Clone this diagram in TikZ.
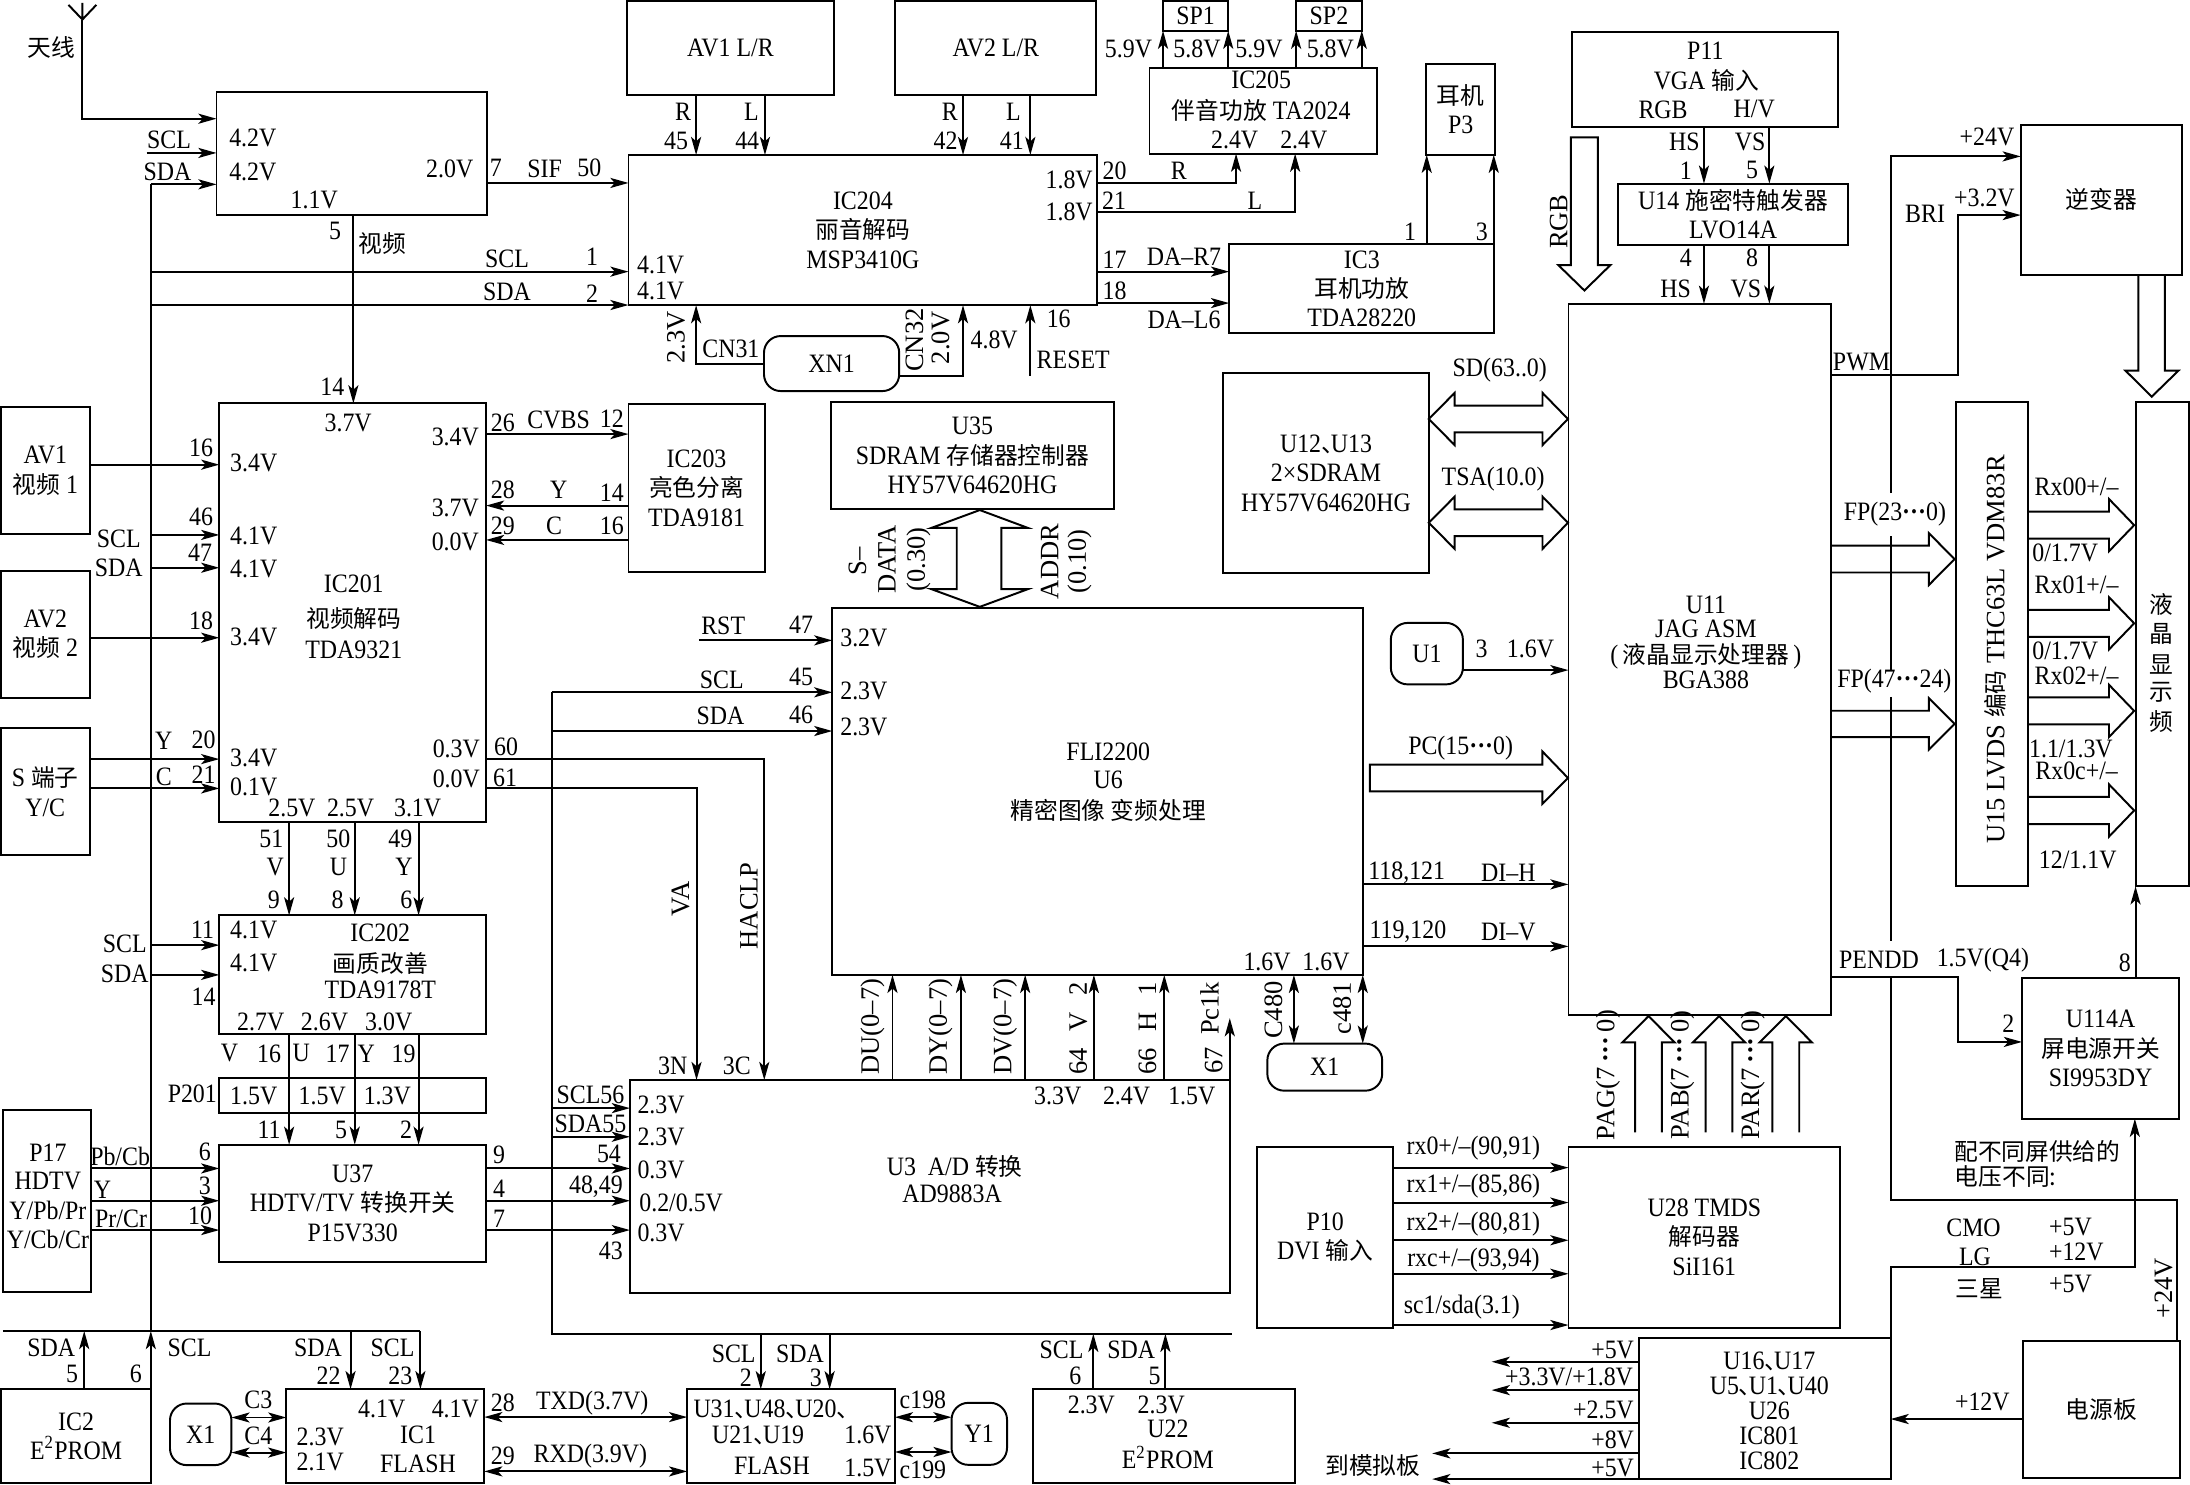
\documentclass[tikz,border=0pt]{standalone}
\usepackage{fontspec}
\setmainfont[FakeStretch=0.9]{Liberation Serif}
\newfontfamily\rotfont{Liberation Serif}
\newfontfamily\cjkfont{Noto Sans CJK SC}
\usetikzlibrary{arrows.meta}
\newcommand{\lbl}{\fontsize{9.5}{10.5}\selectfont}
\newcommand{\rlbl}{\rotfont\fontsize{9.5}{10.5}\selectfont}
\newcommand{\zh}[1]{{\cjkfont\fontsize{8.5}{10.5}\selectfont #1}}
\newcommand{\dn}{\zh{、}\kern-5pt}
\newcommand{\bx}[7][]{\node[box,#1,minimum width={(#5-#3)*0.5pt},minimum height={(#6-#4)*0.5pt}] (#2) at ({(#3+#5)/2},{(#4+#6)/2}) {#7};}
\newcommand{\fatright}[5]{\draw[wire] (#1,{#4-#5}) -- (#2,{#4-#5}) -- (#2,{#4-#5-9}) -- (#3,#4) -- (#2,{#4+#5+9}) -- (#2,{#4+#5}) -- (#1,{#4+#5});}
\newcommand{\fatup}[2]{\draw[wire] ({#1-9.6},810.8) -- ({#1-9.6},746.3) -- ({#1-18.7},746.3) -- (#1,#2) -- ({#1+18.7},746.3) -- ({#1+9.6},746.3) -- ({#1+9.6},810.8);}
\tikzset{
	sigtip/.tip={Stealth[length=6.5pt,width=3.6pt,inset=1.6pt]},
	wire/.style={line width=0.7pt},
	sig/.style={wire,-sigtip},
	dsig/.style={wire,sigtip-sigtip},
	box/.style={draw,wire,rectangle,inner sep=0pt,outer sep=0pt,align=center,font=\lbl},
	rbox/.style={rounded corners=6pt},
	lab/.style={inner sep=0pt,font=\lbl,align=center},
	rlab/.style={inner sep=0pt,font=\rlbl,rotate=90}
}
\begin{document}
\begin{tikzpicture}[x=0.5pt,y=-0.5pt]
	\useasboundingbox (0,0) rectangle (1568,1063);

	\bx{tuner}{155}{65.6}{349}{154}{}
	\bx{avlr}{449}{0.5}{597}{68}{AV1 L/R}
	\bx{avrr}{641}{0.5}{785}{68}{AV2 L/R}
	\bx{sp1}{832.7}{0.5}{879.4}{22}{SP1}
	\bx{sp2}{928}{0.5}{975}{22}{SP2}
	\bx{ic205}{823}{48.7}{986}{110}{}
	\bx{ic204}{450}{111}{785.6}{218.5}{IC204\\\zh{丽音解码}\\MSP3410G}
	\bx{ic3}{880}{175}{1070}{238.4}{IC3\\\zh{耳机功放}\\TDA28220}
	\bx{p3}{1021}{45.6}{1070.6}{110.8}{\zh{耳机}\\P3}
	\bx{p11}{1125.8}{23}{1315.8}{90.7}{}
	\bx{u14}{1158.6}{131.5}{1323}{175.4}{U14 \zh{施密特触发器}\\LVO14A}
	\bx{inv}{1446.8}{89.5}{1562}{196.7}{\zh{逆变器}}
	\bx[rbox]{xn1}{547}{240.6}{643.8}{280}{XN1}
	\bx{u35}{594.9}{288}{797.6}{364.3}{U35\\SDRAM \zh{存储器控制器}\\HY57V64620HG}
	\bx{ic203}{450}{289.6}{547.4}{409.6}{IC203\\\zh{亮色分离}\\TDA9181}
	\bx{u12}{875.8}{267}{1023}{410.5}{U12\dn U13\\2×SDRAM\\HY57V64620HG}
	\bx{ic201}{157}{288.8}{348}{588.3}{}
	\bx{ava}{0.5}{291.7}{64.3}{382.6}{AV1\\\zh{视频} 1}
	\bx{avb}{0.5}{408.6}{64.3}{499.5}{AV2\\\zh{视频} 2}
	\bx{sport}{0.5}{521.3}{64.3}{612.5}{S \zh{端子}\\Y/C}
	\bx{ic202}{157}{655.4}{348}{740.4}{}
	\bx{p201}{157}{771.9}{348}{797.2}{}
	\bx{u37}{157}{819.6}{348}{903.6}{U37\\HDTV/TV \zh{转换开关}\\P15V330}
	\bx{p17}{2}{794.8}{65}{925}{}
	\bx{u6}{595.9}{435.4}{976}{698}{}
	\bx{u3}{451}{773.3}{880.7}{925.7}{}
	\bx[rbox]{xb}{907.4}{747.2}{989.6}{780.9}{X1}
	\bx{u11}{1123}{217.5}{1310.8}{726.4}{}
	\bx[rbox]{u1}{995.8}{446}{1047.4}{490}{U1}
	\bx{u15}{1400.2}{288}{1451.8}{634.6}{}
	\bx{lcd}{1529}{288}{1567}{634.6}{}
	\bx{u114}{1447.7}{700.3}{1560.3}{801}{U114A\\\zh{屏电源开关}\\SI9953DY}
	\bx{p10}{900}{821}{997.5}{950.6}{P10\\DVI \zh{输入}}
	\bx{u28}{1123}{821}{1317.5}{950.6}{U28 TMDS\\\zh{解码器}\\SiI161}
	\bx{u16}{1173.3}{957.8}{1353.6}{1059}{}
	\bx{pow}{1448.3}{960}{1560.5}{1058.5}{\zh{电源板}}
	\bx{ic2}{1}{994.6}{108}{1062}{IC2\\E\textsuperscript{2}PROM}
	\bx[rbox]{xa}{121.7}{1004.9}{165.7}{1049}{X1}
	\bx{ic1}{205}{994.6}{346.7}{1062}{}
	\bx{u31}{492}{994.7}{640.7}{1061.7}{}
	\bx[rbox]{y1}{681.3}{1004.4}{721}{1048.8}{Y1}
	\bx{u22}{739.4}{994.7}{927.2}{1061.7}{}

	\coordinate (ant) at (59,14);
	\coordinate (bus) at (108,132);
	\coordinate (rail) at (395,495.7);
	\coordinate (hv) at (1354,112);
	\coordinate (sclin) at (105,109.5);
	\coordinate (rst) at (500.3,458.5);
	\coordinate (resetin) at (737.7,269);
	\coordinate (pclk) at (880.5,729);
	\coordinate (briup) at (1402,154);
	\coordinate (penddn) at (1402.2,746);
	\coordinate (feed) at (1528.5,907);
	\coordinate (iicl) at (2,953);
	\coordinate (iicr) at (301,953);
	\coordinate (railr) at (882,955);

	\draw[wire] (59,2) -- (ant) (49,3.5) -- (ant) -- (69,3.5);
	\draw[sig] (ant) |- (tuner.west |- 0,85);
	\draw[sig] (sclin) -- (tuner.west |- sclin);
	\draw[wire] (bus) -- (bus |- iicl);
	\draw[sig] (bus) -- (tuner.west |- bus);
	\foreach \y in {194.5,218.4}
		\draw[sig] (bus |- 0,\y) -- (ic204.west |- 0,\y);
	\foreach \y in {383,406.5}
		\draw[sig] (bus |- 0,\y) -- (ic201.west |- 0,\y);
	\foreach \y in {676.7,698}
		\draw[sig] (bus |- 0,\y) -- (ic202.west |- 0,\y);
	\draw[sig] (tuner.east |- 0,131) -- (ic204.west |- 0,131);
	\draw[sig] (tuner.south -| 253,0) -- (ic201.north -| 253,0);
	\foreach \x in {498.4,547.7}
		\draw[sig] (avlr.south -| \x,0) -- (ic204.north -| \x,0);
	\foreach \x in {689.5,737.7}
		\draw[sig] (avrr.south -| \x,0) -- (ic204.north -| \x,0);
	\foreach \x in {832.7,879.4}
		\draw[sig] (ic205.north -| \x,0) -- (sp1.south -| \x,0);
	\foreach \x in {928,975}
		\draw[sig] (ic205.north -| \x,0) -- (sp2.south -| \x,0);
	\draw[sig] (ic204.east |- 0,130.8) -| (ic205.south -| 885,0);
	\draw[sig] (ic204.east |- 0,151.7) -| (ic205.south -| 927.3,0);
	\foreach \y in {194.5,217}
		\draw[sig] (ic204.east |- 0,\y) -- (ic3.west |- 0,\y);
	\foreach \x in {1021.5,1069.5}
		\draw[sig] (ic3.north -| \x,0) -- (p3.south -| \x,0);
	\foreach \x in {1220,1266.8} {
		\draw[sig] (p11.south -| \x,0) -- (u14.north -| \x,0);
		\draw[sig] (u14.south -| \x,0) -- (u11.north -| \x,0);
	}
	\draw[sig] (xn1.west) -| (ic204.south -| 498.4,0);
	\draw[sig] (xn1.east |- 0,269) -| (ic204.south -| 689.5,0);
	\draw[sig] (resetin) -- (ic204.south -| resetin);

	\draw[sig] (ava.east |- 0,332.7) -- (ic201.west |- 0,332.7);
	\draw[sig] (avb.east |- 0,456.6) -- (ic201.west |- 0,456.6);
	\foreach \y in {543.5,564.5}
		\draw[sig] (sport.east |- 0,\y) -- (ic201.west |- 0,\y);
	\draw[sig] (ic201.east |- 0,310.8) -- (ic203.west |- 0,310.8);
	\foreach \y in {362,386.6}
		\draw[sig] (ic203.west |- 0,\y) -- (ic201.east |- 0,\y);
	\draw[sig] (ic201.east |- 0,543.5) -| (u3.north -| 547.2,0);
	\draw[sig] (ic201.east |- 0,564.5) -| (u3.north -| 498.7,0);
	\foreach \x in {207,254,299.7} {
		\draw[sig] (ic201.south -| \x,0) -- (ic202.north -| \x,0);
		\draw[sig] (ic202.south -| \x,0) -- (u37.north -| \x,0);
	}
	\foreach \y in {836.6,859.7,880.7} {
		\draw[sig] (p17.east |- 0,\y) -- (u37.west |- 0,\y);
		\draw[sig] (u37.east |- 0,\y) -- (u3.west |- 0,\y);
	}

	\draw[wire] (rail) -- (rail |- railr) -- (railr);
	\draw[sig] (rail) -- (u6.west |- rail);
	\draw[sig] (rail |- 0,523.4) -- (u6.west |- 0,523.4);
	\foreach \y in {793.4,813.9}
		\draw[sig] (rail |- 0,\y) -- (u3.west |- 0,\y);
	\draw[sig] (rst) -- (u6.west |- rst);
	\foreach \x in {639,688,734,783.2,833.6}
		\draw[sig] (u3.north -| \x,0) -- (u6.south -| \x,0);
	\draw[sig] (u3.north -| pclk) -- (pclk);
	\foreach \x in {926.4,975.7}
		\draw[dsig] (u6.south -| \x,0) -- (xb.north -| \x,0);
	\foreach \y in {633.2,677.6}
		\draw[sig] (u6.east |- 0,\y) -- (u11.west |- 0,\y);
	\draw[sig] (u1.east |- 0,479.8) -- (u11.west |- 0,479.8);

	\draw[sig] (hv |- 0,353) -- (hv) -- (inv.west |- hv);
	\foreach \a/\b in {384/480,499/674}
		\draw[wire] (hv |- 0,\a) -- (hv |- 0,\b);
	\draw[wire] (hv |- 0,699) |- (1558.5,859) -- (pow.north -| 1558.5,0);
	\draw[sig] (u11.east |- 0,268.5) -| (briup) -- (inv.west |- briup);
	\draw[sig] (u11.east |- 0,699.2) -| (penddn) -- (u114.west |- penddn);
	\draw[sig] (u114.north -| lcd.west) -- (lcd.south west);
	\draw[sig] (u16.north east) |- (feed) -- (u114.south -| feed);
	\draw[sig] (pow.west |- 0,1016) -- (u16.east |- 0,1016);
	\foreach \y in {836,861,888,912,948.7}
		\draw[sig] (p10.east |- 0,\y) -- (u28.west |- 0,\y);
	\foreach \x/\y [count=\i] in {1068/975,1068/995.3,1068/1018.7,1025.4/1040.6,1025.4/1059} {
		\coordinate (out\i) at (\x,\y);
		\draw[sig] (u16.west |- out\i) -- (out\i);
	}

	\draw[wire] (iicl) -- (iicr);
	\draw[sig] (ic2.north -| 60.3,0) -- (60.3,953);
	\draw[sig] (ic2.north -| bus) -- (bus |- iicl);
	\draw[sig] (251,953) -- (ic1.north -| 251,0);
	\draw[sig] (iicr) -- (ic1.north -| iicr);
	\foreach \y in {1014.9,1040}
		\draw[dsig] (xa.east |- 0,\y) -- (ic1.west |- 0,\y);
	\foreach \y in {1014.6,1053.5}
		\draw[dsig] (ic1.east |- 0,\y) -- (u31.west |- 0,\y);
	\foreach \x in {544.7,594}
		\draw[sig] (\x,955) -- (u31.north -| \x,0);
	\foreach \y in {1014.7,1039.6}
		\draw[dsig] (u31.east |- 0,\y) -- (y1.west |- 0,\y);
	\foreach \x in {782.8,834.4}
		\draw[sig] (u22.north -| \x,0) -- (\x,955);

	\draw[wire] (1124.7,98.3) -- (1144,98.3) -- (1144,189.8) -- (1153,189.8) -- (1134.4,208) -- (1115.7,189.8) -- (1124.7,189.8) -- cycle;
	\draw[wire] (1531,196.7) -- (1531,265.4) -- (1521.8,265.4) -- (1540.6,284) -- (1559.7,265.4) -- (1550,265.4) -- (1550,196.7);
	\draw[wire] (685,378) -- (666.8,378) -- (701.5,365.2) -- (736,378) -- (717,378) -- (717,421.8) -- (736,421.8) -- (701.5,434.5) -- (666.8,421.8) -- (685,421.8) -- cycle;
	\foreach \y in {300,374.3}
		\draw[wire] (1041.5,{\y-9.6}) -- (1104.4,{\y-9.6}) -- (1104.4,{\y-18.7}) -- (1122.6,\y) -- (1104.4,{\y+18.7}) -- (1104.4,{\y+9.6}) -- (1041.5,{\y+9.6}) -- (1041.5,{\y+18.7}) -- (1023,\y) -- (1041.5,{\y-18.7}) -- cycle;
	\fatright{1311}{1381}{1399.4}{400.3}{9.6}
	\fatright{1311}{1381}{1399.4}{518.3}{9.4}
	\foreach \y in {376,446.3,509,580.3} {
		\fatright{1451.8}{1510}{1528}{\y}{9.7}
	}
	\draw[wire] (980.8,547.4) -- (1104.3,547.4) -- (1104.3,538) -- (1122.6,557) -- (1104.3,575.6) -- (1104.3,566.6) -- (980.8,566.6) -- cycle;
	\foreach \x in {1180.3,1230.8,1278.6} {
		\fatup{\x}{727.5}
	}

	\foreach \x/\y/\txt [count=\i] in {181/99/4.2V,181/123/4.2V,225/143/1.1V,322/121/2.0V,473/190/4.1V,473/208/4.1V,765.5/129/1.8V,765.5/151.5/1.8V,
		808/35/5.9V,857/35/5.8V,901.4/35/5.9V,952.5/35/5.8V,884/100.5/2.4V,933.5/100.5/2.4V,711.8/243.5/4.8V,
		249.3/302.7/3.7V,326/312.7/3.4V,326/364/3.7V,326/388/0.0V,181.7/331.3/3.4V,181.7/383.5/4.1V,181.7/407/4.1V,181.7/455.9/3.4V,181.7/542.5/3.4V,181.7/563.3/0.1V,
		326.7/536.3/0.3V,326.7/558/0.0V,209/578.8/2.5V,251/578.8/2.5V,299/578.8/3.1V,181.7/666/4.1V,181.7/689.8/4.1V,186.7/732/2.7V,232.3/732/2.6V,278.3/732/3.0V,
		181.7/784.8/1.5V,230.7/784.8/1.5V,277.3/784.8/1.3V,473.3/791.2/2.3V,473.3/813.9/2.3V,473.3/837.8/0.3V,487.7/861/0.2{/}0.5V,473.3/882.4/0.3V,
		618.5/456.4/3.2V,618.5/494.8/2.3V,618.5/520.3/2.3V,907.2/688.6/1.6V,949.4/688.6/1.6V,757.3/785/3.3V,806.6/785/2.4V,853.3/785/1.5V,1095.8/464.7/1.6V,
		273.3/1009/4.1V,326/1009/4.1V,229.3/1028.7/2.3V,229.3/1047/2.1V,621.4/1027.6/1.6V,621.4/1050.8/1.5V,781.4/1005.7/2.3V,831.4/1005.7/2.3V,
		1422.6/98.3/+24V,1420.8/142/+3.2V,1482.4/878.8/+5V,1486.6/896.7/+12V,1482.4/919.4/+5V,1154.6/966.6/+5V,1123.4/985.7/+3.3V{/}+1.8V,1148/1009.6/+2.5V,1154.6/1031/+8V,1154.6/1051.4/+5V,1419.3/1003.6/+12V,
		1419.7/687.5/1.5V(Q4),1478.6/396/0{/}1.7V,1478.6/466/0{/}1.7V,1482.7/536/1.1{/}1.3V,1487.6/615.4/12{/}1.1V}
		\node[lab] (v\i) at (\x,\y) {\txt};

	\foreach \x/\y/\txt [count=\i] in {355/120/7,422/120/50,240/165/5,238/277/14,424/184/1,424/210/2,484/101/45,535/101/44,677/101/42,724.5/101/41,
		798/122/20,797.6/144/21,798/186/17,798/208/18,1009.6/166/1,1061/166/3,1207/122/1,1254.5/122/5,1207/184.5/4,1254.5/184.5/8,758/228/16,
		360/303/26,438/299.6/12,360/351/28,438/353/14,360/376.6/29,438/376.6/16,144/321/16,144/370.4/46,143.3/396/47,144/444.4/18,145.7/529.4/20,145.7/555/21,
		362.3/534.6/60,361.7/556.6/61,194.3/600.3/51,242.3/600.3/50,286.7/600.3/49,196/644/9,241.7/644/8,291/644/6,145/666/11,145.7/714/14,
		192.7/754.2/16,241.7/754.2/17,289/754.2/19,192.7/809/11,244.3/809/5,290.7/809/2,146.7/824.6/6,146.7/849.2/3,143.3/870.7/10,357.3/827/9,357.3/851.4/4,357.3/872.4/7,
		436/826.3/54,426.7/850/{48,49},437.3/895.5/43,573.6/447.5/47,573.6/484.5/45,573.6/512/46,1060.8/464.7/3,1007.2/625/{118,121},1008/667/{119,120},1438/733/2,1521.3/689.4/8,
		51.7/983.8/5,97.3/983.8/6,235.3/985.3/22,286.7/985.3/23,360/1004.4/28,360/1042.6/29,534/986.2/2,584.1/986.2/3,770/985/6,826.7/985/5}
		\node[lab] (p\i) at (\x,\y) {\txt};

	\foreach \x/\y/\txt [count=\i] in {121/100/SCL,120/123/SDA,390/121/SIF,363/185/SCL,363/209/SDA,489/80/R,538/80/L,680/80/R,725.6/80/L,844/122/R,898.4/143.5/L,
		847.7/183.5/DA–R7,847.7/229/DA–L6,1206/101.5/HS,1253/101.5/VS,1199.7/207/HS,1250/207/VS,523.3/250/CN31,768.4/257.6/RESET,1332.8/259/PWM,1378.3/152.8/BRI,
		1073.8/265/SD(63..0),1069/343/TSA(10.0),400/301/CVBS,400/351/Y,396.7/376.6/C,85/385.5/SCL,85/406.5/SDA,117.3/530.3/Y,117.3/556/C,197/620.6/V,242.3/620.6/U,289.3/620.6/Y,
		89.3/676/SCL,89.3/697/SDA,164.3/754.2/V,215.7/754.2/U,262.3/754.2/Y,137.7/783.3/P201,86/828.2/Pb{/}Cb,73.3/851.6/Y,86.7/873/Pr{/}Cr,422.7/784/SCL56,422.7/804.8/SDA55,
		481.7/763.3/3N,527.5/763/3C,517.8/448.2/RST,516.8/487/SCL,515.8/512.7/SDA,1045.8/535.4/PC(15{\bfseries ···}0),1080/625/DI–H,1080/667/DI–V,
		1356.7/368/FP(23{\bfseries ···}0),1356.3/487.4/FP(47{\bfseries ···}24),1486.8/348.2/Rx00+{/}–,1486.8/418.6/Rx01+{/}–,1486.8/483.9/Rx02+{/}–,1486.8/552/Rx0c+{/}–,1345.3/687.5/PENDD,
		1054.9/822.2/{rx0+/–(90,91)},1054.9/849.2/{rx1+/–(85,86)},1054.9/876.4/{rx2+/–(80,81)},1054.9/902.2/{rxc+/–(93,94)},1046.6/935.6/sc1{/}sda(3.1),
		1413/878.8/CMO,1414/899.8/LG,36.7/964.7/SDA,135.7/964.7/SCL,227.7/964.7/SDA,281/964.7/SCL,185/1002/C3,185/1028.2/C4,424/1004.9/TXD(3.7V),422.7/1042.6/RXD(3.9V),
		525.3/969/SCL,572.8/969/SDA,660.8/1002.5/c198,660.8/1052.5/c199,760/966.7/SCL,810/966.7/SDA}
		\node[lab] (s\i) at (\x,\y) {\txt};

	\foreach \x/\y/\txt [count=\i] in {37/34/\zh{天线},274/174/\zh{视频},903/57.5/IC205,903/78.7/\zh{伴音功放} TA2024,1221/36.3/P11,1221.7/57.3/VGA \zh{输入},1190.7/78.3/RGB,1256/78.3/H{/}V,
		253.3/417.7/IC201,253.3/442.7/\zh{视频解码},253.3/465.4/TDA9321,272.3/667.6/IC202,272.3/689.8/\zh{画质改善},272.3/709/TDA9178T,
		34.3/825/P17,34.3/845.6/HDTV,34.3/866.4/Y{/}Pb{/}Pr,34.3/887.2/Y{/}Cb{/}Cr,793.5/538.2/FLI2200,793.5/558.5/U6,793.5/580.5/\zh{精密图像 变频处理},
		683.5/835.5/U3\ \ A{/}D \zh{转换},681.7/855/AD9883A,1221.4/433/U11,1221.4/450.4/JAG ASM,1221.4/470/(\,\zh{液晶显示处理器}\,),1221.4/486.6/BGA388,
		1547.7/433/\zh{液},1547.7/454/\zh{晶},1547.7/475.6/\zh{显},1547.7/496/\zh{示},1547.7/516.7/\zh{频},
		1458.7/824.6/\zh{配不同屏供给的},1436/842.5/\zh{电压不同:},1417/922.5/\zh{三星},1266.8/974.5/U16\dn U17,1266.8/992.4/U5\dn U1\dn U40,1266.8/1010.3/U26,1266.8/1028.2/IC801,1266.8/1046/IC802,
		983/1049/\zh{到模拟板},299.3/1027.5/IC1,299.3/1047.8/FLASH,551.2/1009.3/U31\dn U48\dn U20\dn,542.8/1027.6/U21\dn U19,552.7/1049.6/FLASH,836.2/1022.7/U22,836.2/1043.5/E\textsuperscript{2}PROM}
		\node[lab] (t\i) at (\x,\y) {\txt};

	\foreach \x/\y/\txt [count=\i] in {484/241.5/2.3V,654.8/243.5/CN32,673.4/242/2.0V,1116/158.7/RGB,613.9/402/S–,635/400.6/DATA,657.7/400.6/(0.30),751.6/402/ADDR,772.8/402/(0.10),
		487.3/643.7/VA,536.3/648.5/HACLP,624.7/735/DU(0–7),673.3/735/DY(0–7),719.5/735/DV(0–7),772/736.3/64\hspace{6pt}V\hspace{6pt}2,821.6/736.3/66\hspace{6pt}H\hspace{6pt}1,
		866/722/Pc1k,868.9/759/67,911.7/723.2/C480,961/722/c481,1151.3/769.7/PAG(7\,{\bfseries ···}\,0),1204.4/769.7/PAB(7\,{\bfseries ···}\,0),1255/769.7/PAR(7\,{\bfseries ···}\,0),
		1549/922.5/+24V,1428.6/465/U15 LVDS \zh{编码} THC63L VDM83R}
		\node[rlab] (r\i) at (\x,\y) {\txt};
\end{tikzpicture}
\end{document}
